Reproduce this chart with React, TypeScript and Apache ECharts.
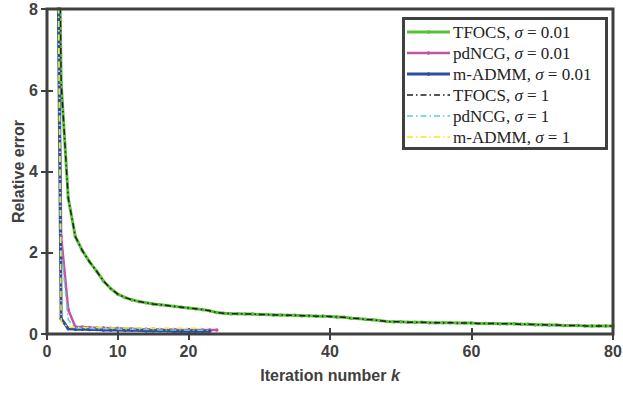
import React, { useEffect, useRef } from "react";
import * as echarts from "echarts";

// Relative error per iteration k (k = 1, 2, ...)
const tfocsSigma001 = [
  20, 6.2, 3.35, 2.4, 2.05, 1.78, 1.55, 1.3, 1.12, 0.98,
  0.9, 0.84, 0.8, 0.77, 0.74, 0.72, 0.7, 0.68, 0.66, 0.64,
  0.62, 0.6, 0.57, 0.53, 0.51, 0.5, 0.5, 0.49, 0.49, 0.48,
  0.48, 0.47, 0.47, 0.46, 0.46, 0.45, 0.45, 0.44, 0.44, 0.43,
  0.42, 0.41, 0.39, 0.38, 0.36, 0.35, 0.33, 0.31, 0.3, 0.3,
  0.29, 0.29, 0.29, 0.28, 0.28, 0.28, 0.28, 0.27, 0.27, 0.27,
  0.26, 0.26, 0.26, 0.25, 0.25, 0.25, 0.24, 0.24, 0.23, 0.23,
  0.22, 0.22, 0.21, 0.21, 0.21, 0.2, 0.2, 0.2, 0.2, 0.2,
];
const pdncgSigma001 = [
  20, 2.4, 0.6, 0.18, 0.17, 0.16, 0.15, 0.15, 0.14, 0.14, 0.13, 0.13,
  0.12, 0.12, 0.12, 0.11, 0.11, 0.11, 0.1, 0.1, 0.1, 0.1, 0.1, 0.1,
];
const madmmSigma001 = [
  20, 0.38, 0.13, 0.12, 0.12, 0.11, 0.11, 0.1, 0.1, 0.1, 0.09, 0.09,
  0.09, 0.08, 0.08, 0.08, 0.08, 0.07, 0.07, 0.07, 0.07, 0.07, 0.07,
];
const tfocsSigma1 = [
  20, 6.2, 3.35, 2.4, 2.05, 1.78, 1.55, 1.3, 1.12, 0.98,
  0.9, 0.84, 0.8, 0.77, 0.74, 0.72, 0.7, 0.68, 0.66, 0.64,
  0.62, 0.6, 0.57, 0.53, 0.51, 0.5, 0.5, 0.49, 0.49, 0.48,
  0.48, 0.47, 0.47, 0.46, 0.46, 0.45, 0.45, 0.44, 0.44, 0.43,
  0.42, 0.41, 0.39, 0.38, 0.36, 0.35, 0.33, 0.31, 0.3, 0.3,
  0.29, 0.29, 0.29, 0.28, 0.28, 0.28, 0.28, 0.27, 0.27, 0.27,
  0.26, 0.26, 0.26, 0.25, 0.25, 0.25, 0.24, 0.24, 0.23, 0.23,
  0.22, 0.22, 0.21, 0.21, 0.21, 0.2, 0.2, 0.2, 0.2, 0.2,
];
const pdncgSigma1 = [
  20, 2.1, 0.35, 0.15, 0.14, 0.14, 0.13, 0.13, 0.13, 0.12, 0.12, 0.12,
  0.11, 0.11, 0.11, 0.1, 0.1, 0.1, 0.1, 0.09, 0.09, 0.09, 0.09,
];
const madmmSigma1 = [
  20, 0.3, 0.17, 0.16, 0.16, 0.16, 0.16, 0.15, 0.15, 0.15, 0.15,
  0.15, 0.15, 0.15, 0.14, 0.14, 0.14, 0.14, 0.14, 0.14, 0.14, 0.14,
];

const seriesNames = [
  "TFOCS, σ = 0.01",
  "pdNCG, σ = 0.01",
  "m-ADMM, σ = 0.01",
  "TFOCS, σ = 1",
  "pdNCG, σ = 1",
  "m-ADMM, σ = 1",
];
const seriesColors = ["#5cbf3c", "#c154a4", "#2e4ea3", "#1e1e1e", "#5cc8e6", "#ecec22"];
const seriesWidths = [3, 2.5, 3, 1.5, 1.5, 1.5];
const seriesDashed = [false, false, false, true, true, true];
const seriesData = [tfocsSigma001, pdncgSigma001, madmmSigma001, tfocsSigma1, pdncgSigma1, madmmSigma1];
const xTicks = [0, 10, 20, 40, 60, 80];
const yTicks = [0, 2, 4, 6, 8];

const AXIS_COLOR = "#404040";
const DASH_DOT = [6, 3, 1.5, 3];
const SERIF = "Liberation Serif, Times New Roman, serif";

const toPairs = (arr: number[]) => arr.map((v, i) => [i + 1, v]);

export default function App() {
  const ref = useRef<HTMLDivElement>(null);
  useEffect(() => {
    document.body.style.margin = "0";
    const chart = echarts.init(ref.current!, undefined, { renderer: "svg" });

    const series = seriesNames.map((name, i) =>
      seriesDashed[i]
        ? {
            name,
            type: "line",
            data: toPairs(seriesData[i]),
            symbol: "none",
            showSymbol: false,
            lineStyle: { color: seriesColors[i], width: seriesWidths[i], type: DASH_DOT },
            itemStyle: { color: seriesColors[i] },
            z: 3,
          }
        : {
            name,
            type: "line",
            data: toPairs(seriesData[i]),
            symbol: "circle",
            symbolSize: 3.5,
            showSymbol: true,
            lineStyle: { color: seriesColors[i], width: seriesWidths[i] },
            itemStyle: { color: seriesColors[i] },
            z: 2,
          }
    );

    const axisLabelStyle = {
      color: AXIS_COLOR,
      fontFamily: "Liberation Sans, Arial, sans-serif",
      fontWeight: "bold",
      fontSize: 16,
    };
    const tick = (vals: number[]) => ({
      show: true,
      inside: true,
      length: 6,
      customValues: vals,
      lineStyle: { color: AXIS_COLOR, width: 2 },
    });

    // manual legend
    const lgLeft = 403.5;
    const lgTop = 18.5;
    const lgW = 203;
    const lgH = 130;
    const rowY0 = 32;
    const rowStep = 21;
    const legendChildren: any[] = [
      {
        type: "rect",
        shape: { x: lgLeft, y: lgTop, width: lgW, height: lgH },
        style: { fill: "#ffffff", stroke: AXIS_COLOR, lineWidth: 3 },
      },
    ];
    seriesNames.forEach((name, i) => {
      const y = rowY0 + i * rowStep;
      legendChildren.push({
        type: "line",
        shape: { x1: 407, y1: y, x2: 450, y2: y },
        style: {
          stroke: seriesColors[i],
          lineWidth: seriesWidths[i],
          lineDash: seriesDashed[i] ? DASH_DOT : null,
        },
      });
      if (!seriesDashed[i]) {
        legendChildren.push({
          type: "circle",
          shape: { cx: 428.5, cy: y, r: 1.8 },
          style: { fill: seriesColors[i] },
        });
      }
      const k = name.indexOf("σ");
      legendChildren.push({
        type: "text",
        x: 453,
        y,
        style: {
          text: `{a|${name.slice(0, k)}}{s|σ}{a|${name.slice(k + 1)}}`,
          verticalAlign: "middle",
          align: "left",
          rich: {
            a: { fontFamily: SERIF, fontSize: 17, fill: "#222" },
            s: { fontFamily: SERIF, fontSize: 17, fontStyle: "italic", fill: "#222" },
          },
        },
      });
    });

    chart.setOption({
      animation: false,
      backgroundColor: "#ffffff",
      grid: {
        left: 47,
        right: 10,
        top: 9,
        bottom: 62,
        containLabel: false,
        outerBoundsMode: "none",
        show: true,
        borderColor: AXIS_COLOR,
        borderWidth: 3,
        backgroundColor: "transparent",
        z: 10,
      },
      xAxis: [
        {
          type: "value",
          min: 0,
          max: 80,
          interval: 10,
          position: "bottom",
          name: "Iteration number {k|k}",
          nameLocation: "middle",
          nameGap: 33,
          nameMoveOverlap: false,
          nameTextStyle: {
            ...axisLabelStyle,
            rich: { k: { ...axisLabelStyle, fontStyle: "italic" } },
          },
          axisLine: { show: false },
          axisTick: tick(xTicks),
          splitLine: { show: false },
          axisLabel: { ...axisLabelStyle, margin: 9, customValues: xTicks },
        },
        {
          type: "value",
          min: 0,
          max: 80,
          interval: 10,
          position: "top",
          axisLine: { show: false },
          axisTick: tick(xTicks),
          splitLine: { show: false },
          axisLabel: { show: false },
        },
      ],
      yAxis: [
        {
          type: "value",
          min: 0,
          max: 8,
          interval: 2,
          position: "left",
          name: "Relative error",
          nameLocation: "middle",
          nameGap: 21,
          nameMoveOverlap: false,
          nameTextStyle: axisLabelStyle,
          axisLine: { show: false },
          axisTick: tick(yTicks),
          splitLine: { show: false },
          axisLabel: { ...axisLabelStyle, margin: 9, customValues: yTicks },
        },
        {
          type: "value",
          min: 0,
          max: 8,
          interval: 2,
          position: "right",
          axisLine: { show: false },
          axisTick: tick(yTicks),
          splitLine: { show: false },
          axisLabel: { show: false },
        },
      ],
      graphic: [{ type: "group", z: 100, children: legendChildren }],
      series,
    });
    return () => chart.dispose();
  }, []);
  return (
    <div
      ref={ref}
      style={{ position: "absolute", left: 0, top: 0, width: 623, height: 396 }}
    />
  );
}
